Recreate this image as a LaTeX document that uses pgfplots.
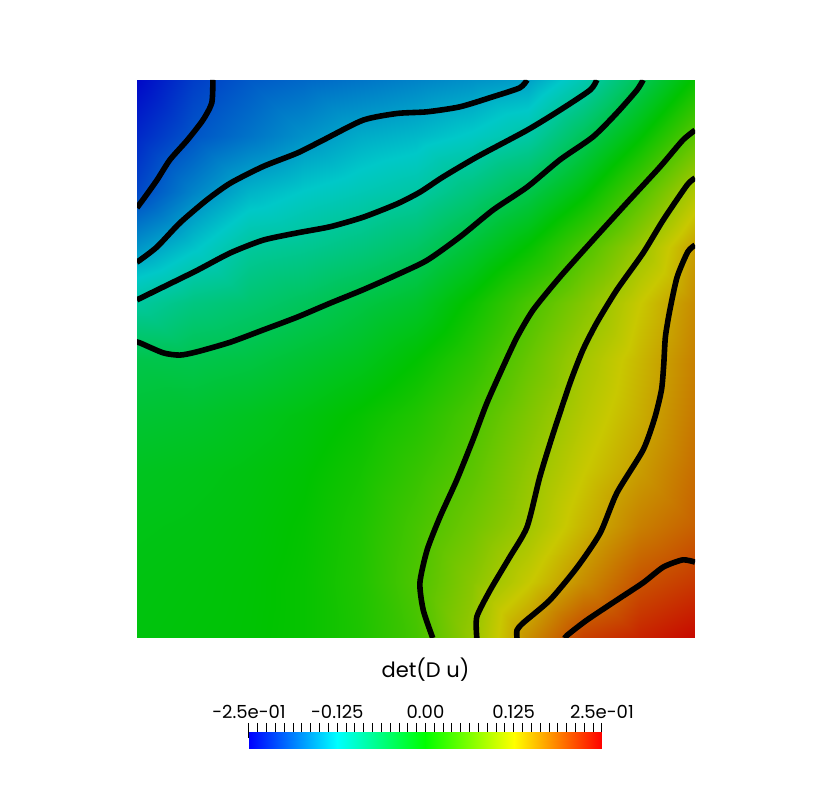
\documentclass[border=0pt]{standalone}
\usepackage{fontspec}
\setmainfont{Poppins}
\usepackage{pgfplots}
\pgfplotsset{compat=1.18}

% lit (darker) colours for the field, plain ones for the colour bar
\pgfplotsset{
  colormap={shaded}{rgb255=(0,0,200) rgb255=(0,200,200) rgb255=(0,195,0) rgb255=(200,200,0) rgb255=(200,0,0)},
  colormap={bright}{rgb255=(0,0,255) rgb255=(0,255,255) rgb255=(0,255,0) rgb255=(255,255,0) rgb255=(255,0,0)},
  isoline/.style={black, line width=2.8pt, smooth, tension=0.4},
}

\begin{document}
\begin{tikzpicture}
\path[use as bounding box] (0,0) rectangle (416pt,394pt);
\begin{axis}[
    at={(68.5pt,75pt)}, anchor=south west,
    scale only axis, width=279pt, height=279pt,
    view={0}{90}, hide axis,
    xmin=0, xmax=1, ymin=0, ymax=1, zmin=-0.3, zmax=0.3,
    colormap name=shaded,
    point meta min=-0.25, point meta max=0.25,
]
\addplot3[surf, shader=interp, mesh/cols=11, point meta=z] table[x=u, y=v, z=f] {
u v f
0.0 0.0 -0.008
0.1 0.0 -0.005
0.2 0.0 -0.002
0.3 0.0 0.004
0.4 0.0 0.018
0.5 0.0 0.042
0.6 0.0 0.094
0.7 0.0 0.161
0.8 0.0 0.210
0.9 0.0 0.228
1.0 0.0 0.245
0.0 0.1 -0.010
0.1 0.1 -0.007
0.2 0.1 -0.003
0.3 0.1 0.004
0.4 0.1 0.020
0.5 0.1 0.048
0.6 0.1 0.085
0.7 0.1 0.123
0.8 0.1 0.162
0.9 0.1 0.198
1.0 0.1 0.215
0.0 0.2 -0.014
0.1 0.2 -0.011
0.2 0.2 -0.006
0.3 0.2 0.002
0.4 0.2 0.018
0.5 0.2 0.043
0.6 0.2 0.070
0.7 0.2 0.100
0.8 0.2 0.137
0.9 0.2 0.170
1.0 0.2 0.190
0.0 0.3 -0.020
0.1 0.3 -0.016
0.2 0.3 -0.010
0.3 0.3 -0.002
0.4 0.3 0.012
0.5 0.3 0.033
0.6 0.3 0.057
0.7 0.3 0.091
0.8 0.3 0.124
0.9 0.3 0.152
1.0 0.3 0.182
0.0 0.4 -0.032
0.1 0.4 -0.028
0.2 0.4 -0.020
0.3 0.4 -0.010
0.4 0.4 0.003
0.5 0.4 0.020
0.6 0.4 0.046
0.7 0.4 0.079
0.8 0.4 0.112
0.9 0.4 0.141
1.0 0.4 0.175
0.0 0.5 -0.047
0.1 0.5 -0.048
0.2 0.5 -0.042
0.3 0.5 -0.031
0.4 0.5 -0.019
0.5 0.5 0.000
0.6 0.5 0.027
0.7 0.5 0.064
0.8 0.5 0.102
0.9 0.5 0.135
1.0 0.5 0.170
0.0 0.6 -0.099
0.1 0.6 -0.080
0.2 0.6 -0.069
0.3 0.6 -0.057
0.4 0.6 -0.042
0.5 0.6 -0.027
0.6 0.6 0.006
0.7 0.6 0.045
0.8 0.6 0.082
0.9 0.6 0.124
1.0 0.6 0.163
0.0 0.7 -0.157
0.1 0.7 -0.129
0.2 0.7 -0.098
0.3 0.7 -0.091
0.4 0.7 -0.079
0.5 0.7 -0.063
0.6 0.7 -0.033
0.7 0.7 0.002
0.8 0.7 0.047
0.9 0.7 0.095
1.0 0.7 0.151
0.0 0.8 -0.206
0.1 0.8 -0.168
0.2 0.8 -0.138
0.3 0.8 -0.124
0.4 0.8 -0.113
0.5 0.8 -0.102
0.6 0.8 -0.076
0.7 0.8 -0.047
0.8 0.8 -0.005
0.9 0.8 0.050
1.0 0.8 0.110
0.0 0.9 -0.225
0.1 0.9 -0.197
0.2 0.9 -0.178
0.3 0.9 -0.159
0.4 0.9 -0.143
0.5 0.9 -0.135
0.6 0.9 -0.122
0.7 0.9 -0.103
0.8 0.9 -0.056
0.9 0.9 -0.003
1.0 0.9 0.056
0.0 1.0 -0.245
0.1 1.0 -0.212
0.2 1.0 -0.194
0.3 1.0 -0.185
0.4 1.0 -0.177
0.5 1.0 -0.168
0.6 1.0 -0.159
0.7 1.0 -0.150
0.8 1.0 -0.110
0.9 1.0 -0.054
1.0 1.0 0.005
};
% contour lines, levels -0.2 ... 0.2 in steps of 0.05
\addplot3[isoline] coordinates {(0.136,1,0.3) (0.134,0.959,0.3) (0.118,0.928,0.3) (0.090,0.892,0.3) (0.059,0.857,0.3) (0.036,0.821,0.3) (0.014,0.790,0.3) (0,0.771,0.3)};
\addplot3[isoline] coordinates {(0.699,1,0.3) (0.686,0.986,0.3) (0.638,0.970,0.3) (0.579,0.952,0.3) (0.520,0.943,0.3) (0.466,0.940,0.3) (0.405,0.928,0.3) (0.333,0.892,0.3) (0.287,0.869,0.3) (0.226,0.845,0.3) (0.167,0.815,0.3) (0.125,0.785,0.3) (0.077,0.744,0.3) (0.036,0.701,0.3) (0.005,0.677,0.3) (0,0.674,0.3)};
\addplot3[isoline] coordinates {(0.824,1,0.3) (0.812,0.982,0.3) (0.758,0.946,0.3) (0.699,0.910,0.3) (0.609,0.862,0.3) (0.548,0.826,0.3) (0.507,0.799,0.3) (0.466,0.778,0.3) (0.405,0.754,0.3) (0.346,0.737,0.3) (0.287,0.726,0.3) (0.226,0.713,0.3) (0.167,0.690,0.3) (0.108,0.659,0.3) (0.047,0.629,0.3) (0,0.606,0.3)};
\addplot3[isoline] coordinates {(0.907,1,0.3) (0.896,0.982,0.3) (0.860,0.941,0.3) (0.817,0.898,0.3) (0.758,0.857,0.3) (0.699,0.808,0.3) (0.638,0.767,0.3) (0.579,0.719,0.3) (0.520,0.677,0.3) (0.466,0.651,0.3) (0.405,0.624,0.3) (0.346,0.600,0.3) (0.287,0.575,0.3) (0.226,0.552,0.3) (0.167,0.530,0.3) (0.108,0.513,0.3) (0.077,0.507,0.3) (0.047,0.511,0.3) (0.005,0.529,0.3) (0,0.530,0.3)};
\addplot3[isoline] coordinates {(1,0.910,0.3) (0.978,0.892,0.3) (0.937,0.844,0.3) (0.878,0.780,0.3) (0.817,0.713,0.3) (0.758,0.647,0.3) (0.710,0.588,0.3) (0.681,0.539,0.3) (0.656,0.486,0.3) (0.627,0.421,0.3) (0.602,0.355,0.3) (0.573,0.283,0.3) (0.543,0.217,0.3) (0.520,0.158,0.3) (0.507,0.099,0.3) (0.513,0.050,0.3) (0.530,0,0.3)};
\addplot3[isoline] coordinates {(1,0.824,0.3) (0.986,0.812,0.3) (0.943,0.749,0.3) (0.907,0.690,0.3) (0.860,0.624,0.3) (0.824,0.565,0.3) (0.799,0.516,0.3) (0.776,0.457,0.3) (0.746,0.367,0.3) (0.722,0.289,0.3) (0.699,0.199,0.3) (0.668,0.145,0.3) (0.633,0.086,0.3) (0.609,0.038,0.3) (0.609,0,0.3)};
\addplot3[isoline] coordinates {(1,0.704,0.3) (0.987,0.692,0.3) (0.968,0.647,0.3) (0.955,0.588,0.3) (0.947,0.540,0.3) (0.944,0.490,0.3) (0.940,0.445,0.3) (0.928,0.395,0.3) (0.907,0.337,0.3) (0.860,0.260,0.3) (0.830,0.188,0.3) (0.789,0.127,0.3) (0.740,0.068,0.3) (0.692,0.027,0.3) (0.681,0.014,0.3) (0.681,0,0.3)};
\addplot3[isoline] coordinates {(1,0.136,0.3) (0.978,0.140,0.3) (0.943,0.127,0.3) (0.907,0.099,0.3) (0.860,0.068,0.3) (0.806,0.032,0.3) (0.771,0.005,0.3) (0.767,0,0.3)};
\end{axis}
\node[anchor=base, font=\fontsize{10.5}{12}\selectfont] at (212.75pt,55pt) {det(D u)};
% colour bar
\begin{axis}[
    at={(124.5pt,19.5pt)}, anchor=south west,
    scale only axis, width=176.5pt, height=8.5pt,
    xmin=-0.25, xmax=0.25, ymin=0, ymax=1,
    colormap name=bright,
    point meta min=-0.25, point meta max=0.25,
    axis line style={draw=none},
    ytick=\empty,
    xtick={-0.25,-0.125,0,0.125,0.25},
    xticklabels={-2.5e-01,-0.125,0.00,0.125,2.5e-01},
    minor x tick num=9,
    xtick pos=right, xticklabel pos=right,
    tick align=outside,
    major tick length=7.5pt, minor tick length=4.5pt,
    major tick style={black, line width=0.5pt, yshift=-3pt},
    minor tick style={black, line width=0.5pt},
    xticklabel style={anchor=base, inner sep=0pt, yshift=-1pt, font=\fontsize{9}{10}\selectfont},
]
\addplot[patch, shader=interp, point meta=explicit] coordinates {
(-0.25,0) [-0.25] (-0.125,0) [-0.125] (-0.125,1) [-0.125]
(-0.25,0) [-0.25] (-0.125,1) [-0.125] (-0.25,1) [-0.25]
(-0.125,0) [-0.125] (0,0) [0] (0,1) [0]
(-0.125,0) [-0.125] (0,1) [0] (-0.125,1) [-0.125]
(0,0) [0] (0.125,0) [0.125] (0.125,1) [0.125]
(0,0) [0] (0.125,1) [0.125] (0,1) [0]
(0.125,0) [0.125] (0.25,0) [0.25] (0.25,1) [0.25]
(0.125,0) [0.125] (0.25,1) [0.25] (0.125,1) [0.125]
};
\end{axis}
\end{tikzpicture}
\end{document}
